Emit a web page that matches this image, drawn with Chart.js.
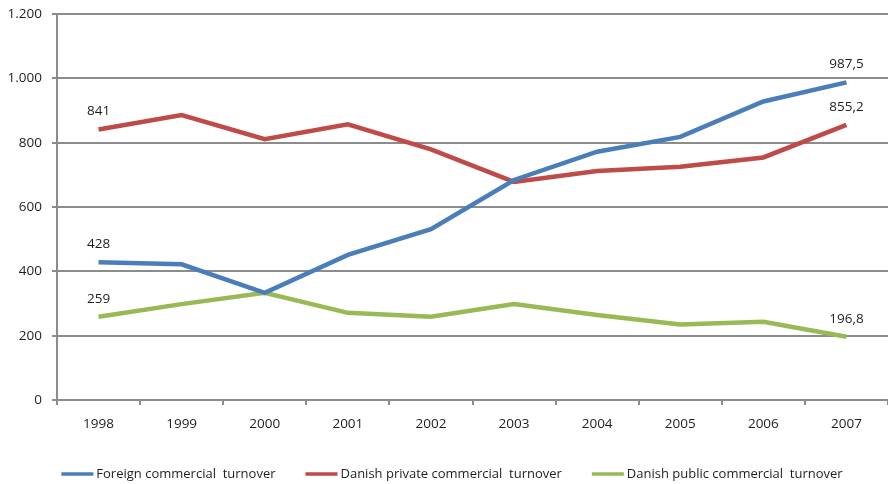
<!DOCTYPE html>
<html>
<head>
<meta charset="utf-8">
<script src="https://cdn.jsdelivr.net/npm/chart.js@4/dist/chart.umd.min.js"></script>
<style>
  html, body { margin: 0; padding: 0; background: #ffffff; }
  #wrap { width: 888px; height: 484px; position: relative; }
</style>
</head>
<body>
<div id="wrap"><canvas id="chart"></canvas></div>
<script>
// Commercial turnover by source, 1998-2007
const years = ['1998', '1999', '2000', '2001', '2002', '2003', '2004', '2005', '2006', '2007'];
const foreignTurnover = [428, 422, 333, 451, 531, 684, 772, 818, 928, 987.5];
const danishPrivateTurnover = [841, 886, 811, 857, 779, 678, 712, 725, 754, 855.2];
const danishPublicTurnover = [259, 298, 333, 271, 259, 298, 264, 235, 243, 196.8];
const seriesNames = [
  'Foreign commercial  turnover',
  'Danish private commercial  turnover',
  'Danish public commercial  turnover'
];
const yTicks = { min: 0, max: 1200, step: 200 };
// Which points carry a value label: first and last year
const labelledIndexes = [0, 9];

const FONT = '"Open Sans", "Noto Sans", sans-serif';
const TEXT = '#1e1e1e';
const GRID = '#8c8c8c';

// Danish number style: '.' for thousands, ',' for decimals
function fmt(v) {
  const parts = String(v).split('.');
  parts[0] = parts[0].replace(/\B(?=(\d{3})+(?!\d))/g, '.');
  return parts.join(',');
}

// Value labels above the first and last point of each line
const valueLabels = {
  id: 'valueLabels',
  afterDatasetsDraw(chart) {
    const ctx = chart.ctx;
    ctx.save();
    ctx.font = '13.5px ' + FONT;
    ctx.fillStyle = TEXT;
    ctx.textAlign = 'center';
    ctx.textBaseline = 'middle';
    chart.data.datasets.forEach((ds, di) => {
      const meta = chart.getDatasetMeta(di);
      labelledIndexes.forEach(i => {
        const pt = meta.data[i];
        ctx.fillText(fmt(ds.data[i]), pt.x, pt.y - 18);
      });
    });
    ctx.restore();
  }
};

// Legend row under the x axis: short line sample followed by the series name
const lineLegend = {
  id: 'lineLegend',
  afterDraw(chart) {
    const ctx = chart.ctx;
    const sample = 32, gap = 3, itemGap = 30;
    ctx.save();
    ctx.font = '13px ' + FONT;
    ctx.textBaseline = 'middle';
    ctx.textAlign = 'left';
    const items = chart.data.datasets.map(ds => ({
      ds, w: sample + gap + ctx.measureText(ds.label).width
    }));
    const total = items.reduce((s, it) => s + it.w, 0) + itemGap * (items.length - 1);
    let x = (chart.width - total) / 2 + 8;
    const y = 474;
    items.forEach(it => {
      ctx.strokeStyle = it.ds.borderColor;
      ctx.lineWidth = 3.5;
      ctx.lineCap = 'butt';
      ctx.beginPath();
      ctx.moveTo(x, y);
      ctx.lineTo(x + sample, y);
      ctx.stroke();
      ctx.fillStyle = TEXT;
      ctx.fillText(it.ds.label, x + sample + gap, y);
      x += it.w + itemGap;
    });
    ctx.restore();
  }
};

const lineStyle = { borderWidth: 4.5, pointRadius: 0, pointHoverRadius: 0, tension: 0, fill: false };

new Chart(document.getElementById('chart'), {
  type: 'line',
  data: {
    labels: years,
    datasets: [
      Object.assign({ label: seriesNames[0], data: foreignTurnover, borderColor: '#4a7ebb', backgroundColor: '#4a7ebb' }, lineStyle),
      Object.assign({ label: seriesNames[1], data: danishPrivateTurnover, borderColor: '#be4b48', backgroundColor: '#be4b48' }, lineStyle),
      Object.assign({ label: seriesNames[2], data: danishPublicTurnover, borderColor: '#98b954', backgroundColor: '#98b954' }, lineStyle)
    ]
  },
  options: {
    responsive: true,
    maintainAspectRatio: false,
    animation: false,
    layout: { padding: { left: 0, right: -2, top: 14, bottom: 30 } },
    plugins: {
      tooltip: { enabled: false },
      legend: { display: false }
    },
    scales: {
      x: {
        offset: true,
        grid: { offset: true, drawOnChartArea: false, drawTicks: true, tickLength: 5, color: GRID, lineWidth: 2 },
        border: { color: GRID, width: 2 },
        ticks: { color: TEXT, padding: 11, maxRotation: 0, font: { family: FONT, size: 13.5 } },
        afterFit(scale) { scale.height = 54; }
      },
      y: {
        min: yTicks.min,
        max: yTicks.max,
        grid: { color: GRID, lineWidth: 2, tickLength: 5 },
        border: { color: GRID, width: 2 },
        ticks: {
          stepSize: yTicks.step,
          color: TEXT,
          padding: 10,
          font: { family: FONT, size: 13.5 },
          callback: v => fmt(v)
        },
        afterFit(scale) {
          scale.width = 57;
          scale.paddingTop = 0;
          scale.paddingBottom = 0;
        }
      }
    }
  },
  plugins: [valueLabels, lineLegend]
});
</script>
</body>
</html>
